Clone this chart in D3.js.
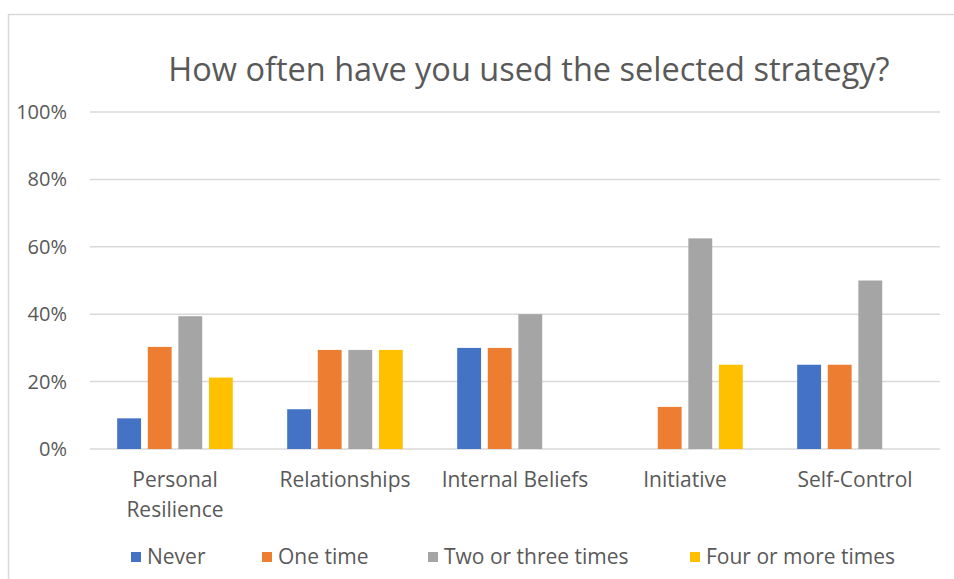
<!DOCTYPE html>
<html>
<head>
<meta charset="utf-8">
<script src="https://cdn.jsdelivr.net/npm/d3@7"></script>
<style>
  html, body { margin: 0; padding: 0; background: #fff; }
  svg { display: block; }
  text { font-family: "Open Sans", Lato, sans-serif; fill: #595959; }
</style>
</head>
<body>
<svg id="chart" width="954" height="579"></svg>
<script>
const categories = [["Personal", "Resilience"], ["Relationships"], ["Internal Beliefs"], ["Initiative"], ["Self-Control"]];
const series = ["Never", "One time", "Two or three times", "Four or more times"];
const colors = ["#4472C4", "#ED7D31", "#A5A5A5", "#FFC000"];
const never      = [9.1, 11.8, 30, 0, 25];
const oneTime    = [30.3, 29.4, 30, 12.5, 25];
const twoThree   = [39.4, 29.4, 40, 62.5, 50];
const fourMore   = [21.2, 29.4, 0, 25, 0];
const yTicks = [0, 20, 40, 60, 80, 100];
const title = "How often have you used the selected strategy?";

const values = [never, oneTime, twoThree, fourMore];
const catKeys = categories.map(c => c.join(" "));

const svg = d3.select("#chart");
const plotLeft = 90, plotRight = 940, plotTop = 112, plotBottom = 449;

// chart border
svg.append("path")
  .attr("d", `M8.5,579 L8.5,14.5 L954,14.5`)
  .attr("fill", "none").attr("stroke", "#d9d9d9").attr("stroke-width", 1.5);

const x0 = d3.scaleBand().domain(catKeys).range([plotLeft, plotRight]).padding(0);
const gap = x0.bandwidth() * 0.16;
const x1 = d3.scaleBand().domain(series).range([gap, x0.bandwidth() - gap]).paddingInner(0.22).paddingOuter(0);
const y = d3.scaleLinear().domain([0, 100]).range([plotBottom, plotTop]);

// gridlines
svg.append("g").selectAll("line").data(yTicks).join("line")
  .attr("x1", plotLeft).attr("x2", plotRight)
  .attr("y1", d => y(d)).attr("y2", d => y(d))
  .attr("stroke", "#d9d9d9").attr("stroke-width", 1.5);

// y axis labels
const yAxis = d3.axisLeft(y).tickValues(yTicks).tickFormat(d => d + "%").tickSize(0).tickPadding(0);
const yg = svg.append("g").attr("transform", `translate(67,0)`).call(yAxis);
yg.select(".domain").remove();
yg.selectAll("text").style("font-size", "20px").style("font-family", "'Open Sans', sans-serif").attr("fill", "#595959");

// bars
const groups = svg.append("g").selectAll("g").data(catKeys).join("g")
  .attr("transform", d => `translate(${x0(d)},0)`);
groups.selectAll("rect")
  .data((d, i) => series.map((s, j) => ({ s, j, v: values[j][i] })))
  .join("rect")
  .attr("x", d => x1(d.s))
  .attr("width", x1.bandwidth())
  .attr("y", d => y(d.v))
  .attr("height", d => y(0) - y(d.v))
  .attr("fill", d => colors[d.j]);

// category labels
const xl = svg.append("g");
categories.forEach((lines, i) => {
  const cx = x0(catKeys[i]) + x0.bandwidth() / 2;
  const t = xl.append("text")
    .attr("x", cx)
    .attr("y", 487)
    .attr("text-anchor", "middle")
    .style("font-size", "21px");
  lines.forEach((ln, k) => {
    t.append("tspan").attr("x", cx).attr("dy", k === 0 ? 0 : 30).text(ln);
  });
});

// title
svg.append("text").attr("x", 529).attr("y", 81).attr("text-anchor", "middle")
  .style("font-size", "32.5px").text(title);

// legend
const legendX = [131, 262, 428, 690];
const lg = svg.append("g").selectAll("g").data(series).join("g")
  .attr("transform", (d, i) => `translate(${legendX[i]},552)`);
lg.append("rect").attr("width", 10).attr("height", 10).attr("fill", (d, i) => colors[i]);
lg.append("text").attr("x", 16).attr("y", 12).style("font-size", "21px").text(d => d);
</script>
</body>
</html>
